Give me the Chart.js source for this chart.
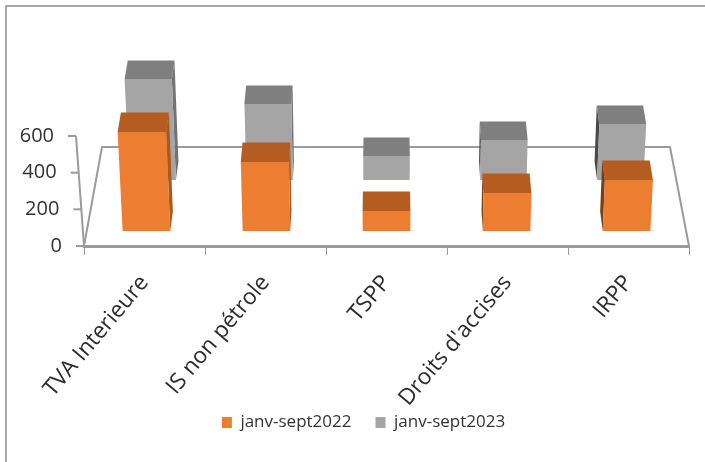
<!DOCTYPE html>
<html lang="fr">
<head>
<meta charset="utf-8">
<title>Recettes janv-sept</title>
<script src="https://cdn.jsdelivr.net/npm/chart.js@4"></script>
<style>
    html, body { margin: 0; padding: 0; background: #fff; overflow: hidden; }
    canvas { display: block; }
</style>
</head>
<body>
<canvas id="grafica" width="705" height="462"></canvas>
<script>
const categorias = ['TVA Interieure', 'IS non pétrole', 'TSPP', "Droits d'accises", 'IRPP'];
const valores2022 = [540, 376, 109, 207, 278];
const valores2023 = [551, 415, 131, 218, 305];
const ticksY = [0, 200, 400, 600];

const FUENTE = '"Open Sans", "Noto Sans", sans-serif';
const LINEA = '#9b9b9b';

// one plane per dataset: the 2023 row stands further back on the floor
const planos = [
    { lift: 15, escala: 0.992, fondo: 19.5, frente: '#ED7D31', arriba: '#B55D20', ladoDer: '#A9581E', ladoIzq: '#7A3F14' },
    { lift: 66, escala: 0.966, fondo: 18.5, frente: '#A5A5A5', arriba: '#7F7F7F', ladoDer: '#737373', ladoIzq: '#4A4A4A' }
];
const ABRE = 0.00019;   // bars widen a little as they rise
const CIERRA = 0.012;   // and narrow towards their back face

const poligono = (ctx, puntos, color) => {
    ctx.fillStyle = color;
    ctx.beginPath();
    puntos.forEach(([x, y], i) => (i ? ctx.lineTo(x, y) : ctx.moveTo(x, y)));
    ctx.closePath();
    ctx.fill();
};

const dibujarBarra = (ctx, el, plano, cx) => {
    const alto = el.base - el.y;
    const suelo = el.base - plano.lift;
    const punto = (x, h, d) => [
        cx + (x - cx) * plano.escala * (1 + ABRE * h) * (1 - CIERRA * d),
        suelo - h - plano.fondo * d
    ];
    const izq = el.x - el.width / 2;
    const der = el.x + el.width / 2;

    if (punto(der, 0, 0)[0] < cx - el.width / 2) {
        poligono(ctx, [punto(der, 0, 0), punto(der, 0, 1), punto(der, alto, 1), punto(der, alto, 0)], plano.ladoDer);
    }
    if (punto(izq, 0, 0)[0] > cx + el.width / 2) {
        poligono(ctx, [punto(izq, 0, 0), punto(izq, 0, 1), punto(izq, alto, 1), punto(izq, alto, 0)], plano.ladoIzq);
    }
    poligono(ctx, [punto(izq, alto, 0), punto(izq, alto, 1), punto(der, alto, 1), punto(der, alto, 0)], plano.arriba);
    poligono(ctx, [punto(izq, 0, 0), punto(izq, alto, 0), punto(der, alto, 0), punto(der, 0, 0)], plano.frente);
};

const barras3d = {
    id: 'barras3d',
    beforeDatasetDraw(chart, args) {
        const { ctx, chartArea } = chart;
        const cx = (chartArea.left + chartArea.right) / 2;
        ctx.save();
        args.meta.data.forEach(el => dibujarBarra(ctx, el, planos[args.index], cx));
        ctx.restore();
        return false;
    }
};

const marco = {
    id: 'marco',
    beforeDraw(chart) {
        const { ctx, width, height, chartArea: a, scales } = chart;
        // the long rotated labels run into the legend's box, don't let the scale clip them
        scales.x.bottom = height;

        ctx.save();
        ctx.strokeStyle = '#8c8c8c';
        ctx.lineWidth = 1.5;
        ctx.beginPath();
        ctx.moveTo(6, height);
        ctx.lineTo(6, 6);
        ctx.lineTo(width, 6);
        ctx.stroke();

        // floor outline
        ctx.strokeStyle = LINEA;
        ctx.lineWidth = 2;
        ctx.beginPath();
        ctx.moveTo(a.left, a.bottom);
        ctx.lineTo(a.left + 18, a.bottom - 99);
        ctx.lineTo(a.right - 19, a.bottom - 99);
        ctx.lineTo(a.right, a.bottom);
        ctx.stroke();

        // leaning value axis with its ticks and labels
        const y = scales.y;
        const xEje = py => a.left - (a.bottom - py) * 8 / 110;
        ctx.beginPath();
        ctx.moveTo(xEje(y.top), y.top);
        ctx.lineTo(a.left, a.bottom);
        ctx.stroke();
        ctx.font = '20px ' + FUENTE;
        ctx.fillStyle = '#333';
        ctx.textAlign = 'right';
        ctx.textBaseline = 'middle';
        ticksY.forEach(t => {
            const py = y.getPixelForValue(t);
            ctx.beginPath();
            ctx.moveTo(xEje(py) - 8, py);
            ctx.lineTo(xEje(py), py);
            ctx.stroke();
            ctx.fillText(String(t), xEje(py) - 22, py);
        });
        ctx.restore();
    }
};

new Chart(document.getElementById('grafica'), {
    type: 'bar',
    data: {
        labels: categorias,
        datasets: [
            { label: 'janv-sept2022', data: valores2022, backgroundColor: '#ED7D31', barThickness: 48, grouped: false },
            { label: 'janv-sept2023', data: valores2023, backgroundColor: '#A5A5A5', barThickness: 48, grouped: false }
        ]
    },
    options: {
        responsive: false,
        animation: false,
        layout: { padding: { left: 38, right: 16, top: 136, bottom: 21 } },
        plugins: {
            legend: {
                position: 'bottom',
                labels: { boxWidth: 10, boxHeight: 11, padding: 24, color: '#333', font: { family: FUENTE, size: 17 } }
            },
            tooltip: { enabled: false }
        },
        scales: {
            x: {
                afterFit: s => { s.height = 144; },
                border: { color: LINEA, width: 3 },
                grid: { drawOnChartArea: false, color: LINEA, tickLength: 9 },
                ticks: { minRotation: 50, maxRotation: 50, padding: 15, color: '#2b2b2b', autoSkip: false, font: { family: FUENTE, size: 22.5 } }
            },
            y: {
                min: 0,
                max: 600,
                afterFit: s => { s.width = 46; },
                border: { display: false },
                grid: { display: false },
                ticks: { display: false, stepSize: 200 }
            }
        }
    },
    plugins: [marco, barras3d]
});
</script>
</body>
</html>
